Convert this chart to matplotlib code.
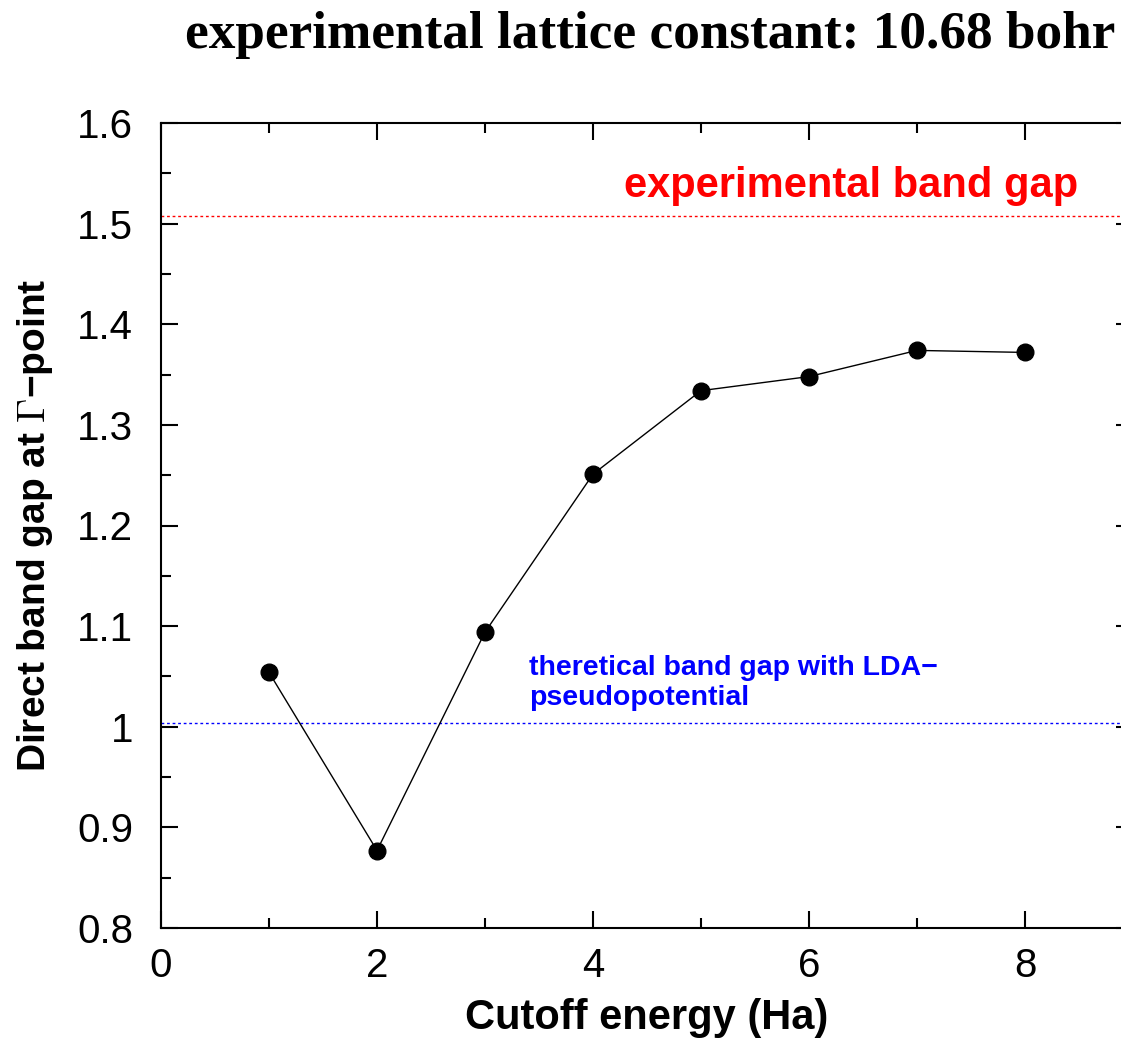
import matplotlib
matplotlib.use("Agg")
import matplotlib.pyplot as plt
from matplotlib.ticker import MultipleLocator

plt.rcParams['mathtext.fontset'] = 'cm'

cutoff = [1, 2, 3, 4, 5, 6, 7, 8]
gap = [1.054, 0.877, 1.094, 1.251, 1.334, 1.348, 1.374, 1.372]
exp_gap = 1.508
lda_gap = 1.004

W, H = 1121, 1039
fig = plt.figure(figsize=(W/100, H/100), dpi=100)
ax = fig.add_axes([161/W, 1-928/H, (1133-161)/W, (928-123)/H])

ax.plot(cutoff, gap, color='black', lw=1.0, marker='o', ms=12, mfc='black', mec='black', zorder=3)
ax.axhline(exp_gap, color='red', lw=1.0, ls=(0, (2, 2)))
ax.axhline(lda_gap, color='blue', lw=1.0, ls=(0, (2, 2)))

ax.text(6.39, 1.537, "experimental band gap", color='red', fontsize=30, fontweight='bold',
        family='Liberation Sans', ha='center', va='center')
ax.text(3.41, 1.071, "theretical band gap with LDA\u2212\npseudopotential", color='blue', fontsize=20.5,
        fontweight='bold', family='Liberation Sans', ha='left', va='top', linespacing=1.2)

ax.set_xlim(0, 9)
ax.set_ylim(0.8, 1.6)
ax.xaxis.set_major_locator(MultipleLocator(2))
ax.xaxis.set_minor_locator(MultipleLocator(1))
ax.yaxis.set_minor_locator(MultipleLocator(0.05))
ax.set_yticks([0.8, 0.9, 1.0, 1.1, 1.2, 1.3, 1.4, 1.5, 1.6])
ax.set_yticklabels(['0.8', '0.9', '1', '1.1', '1.2', '1.3', '1.4', '1.5', '1.6'])
ax.tick_params(which='both', direction='in', top=True, right=True, width=1.5)
ax.tick_params(which='major', length=12, labelsize=29)
ax.tick_params(axis='y', which='major', pad=20)
ax.tick_params(axis='x', which='major', pad=14)
ax.tick_params(which='minor', length=7)
for lab in ax.get_xticklabels() + ax.get_yticklabels():
    lab.set_family('Liberation Sans')
for s in ax.spines.values():
    s.set_linewidth(1.5)

ax.set_xlabel("Cutoff energy (Ha)", fontsize=30, fontweight='bold', family='Liberation Sans', labelpad=9)
ax.set_ylabel("Direct band gap at $\\Gamma$\u2212point", fontsize=28, fontweight='bold',
              family='Liberation Sans', labelpad=16)

fig.text(1115/W, 1-35/H, "experimental lattice constant: 10.68 bohr", fontsize=38.3, fontweight='bold',
         family='Liberation Serif', ha='right', va='center')

fig.savefig("out.png", dpi=100)
